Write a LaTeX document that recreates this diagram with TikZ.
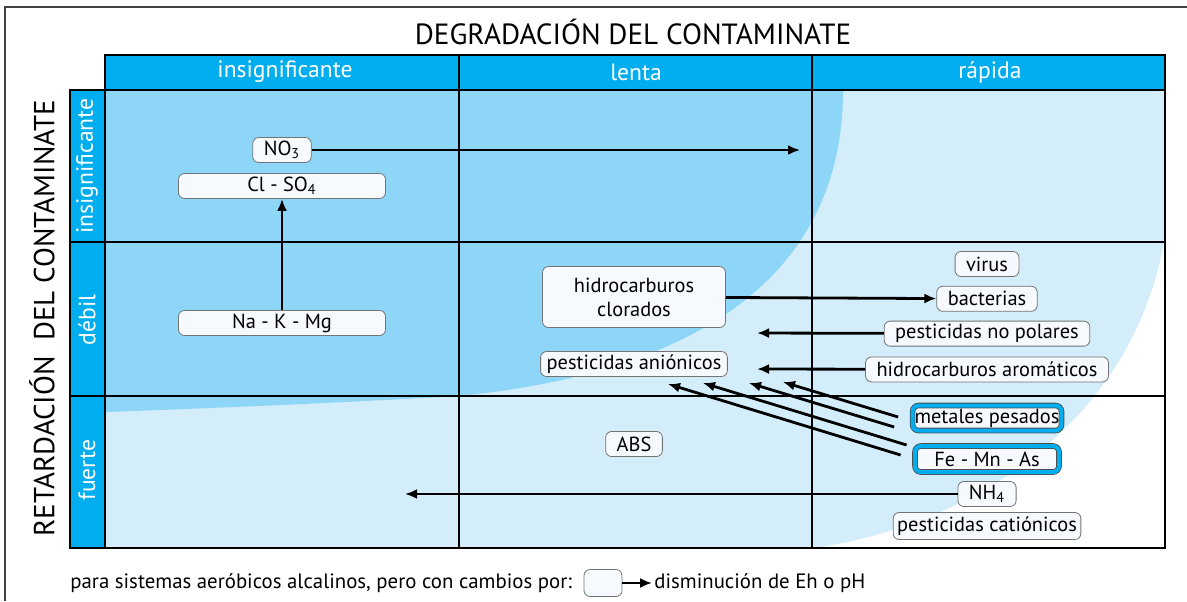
\documentclass[tikz,border=0pt]{standalone}
\usepackage{fontspec}
\setmainfont{PT Sans}
\usepackage{xcolor}
\usepackage{tikz}
\usetikzlibrary{shapes,arrows.meta,positioning}

\definecolor{hdrblue}{RGB}{0,173,238}
\definecolor{midblue}{RGB}{142,214,247}
\definecolor{lightblue}{RGB}{211,237,250}
\definecolor{boxfill}{RGB}{246,250,254}

\begin{document}
\begin{tikzpicture}[x=0.5pt, y=-0.5pt,
    box/.style={rectangle, rounded corners=3pt, draw=black!55, fill=boxfill,
                minimum height=12.5pt, inner xsep=5.5pt, inner ysep=1pt,
                font=\fontsize{10.2}{12}\selectfont, align=center},
    metalbox/.style={box, draw=black!70, double=hdrblue, double distance=2pt,
                     inner xsep=1pt, minimum width=72pt},
    hdr/.style={text=white, font=\fontsize{11.8}{14}\selectfont},
    grid/.style={draw=black, line width=0.6pt},
    arr/.style={-{Latex[length=6pt,width=5pt]}, line width=1.4pt},
    node distance=4.5pt
]
    \useasboundingbox (0,0) rectangle (1187,601);

    % zonas de fondo
    \fill[lightblue] (105,90) rectangle (1165,548);
    \fill[midblue] (105,90) -- (843,90) .. controls (843,260) and (720,370) .. (459,396)
        .. controls (300,405) and (160,410) .. (105,412) -- cycle;
    \fill[white] (1165,235) .. controls (1140,400) and (1000,520) .. (815,548) -- (1165,548) -- cycle;

    % marco y cabeceras
    \draw[black!75, line width=1pt] (5,601) -- (5,7) -- (1187,7);
    \draw[grid, fill=hdrblue] (105,55) rectangle (1165,90);
    \draw[grid, fill=hdrblue] (70,90) rectangle (105,548);
    \draw[grid] (105,90) rectangle (1165,548);
    \draw[grid] (459,55) -- (459,548);
    \draw[grid] (812,55) -- (812,548);
    \draw[grid] (70,242) -- (1165,242);
    \draw[grid] (70,396) -- (1165,396);

    \node[font=\fontsize{14.6}{17}\selectfont] (title) at (633,32) {DEGRADACIÓN DEL CONTAMINATE};
    \node[rotate=90, font=\fontsize{14.5}{17}\selectfont] (ltitle) at (42,318) {RETARDACIÓN\ \ DEL CONTAMINATE};

    \node[hdr] (cInsig) at (285,72) {insignificante};
    \node[hdr] (cLenta) at (636,72) {lenta};
    \node[hdr] (cRapida) at (990,72) {rápida};
    \node[hdr, rotate=90] (rInsig) at (87,166) {insignificante};
    \node[hdr, rotate=90] (rDebil) at (87,320) {débil};
    \node[hdr, rotate=90] (rFuerte) at (87,470) {fuerte};

    % contaminantes
    \node[box] (NO3) at (282,150) {NO\textsubscript{3}};
    \node[box, minimum width=103.5pt] (ClSO4) at (282,186) {Cl - SO\textsubscript{4}};
    \node[box, minimum width=103.5pt] (NaKMg) at (282,323) {Na - K - Mg};
    \node[box, minimum width=91.5pt, minimum height=30.5pt] (HCclor) at (634,297) {hidrocarburos\\clorados};
    \node[box, inner xsep=3pt] (PAnion) at (634,364) {pesticidas aniónicos};
    \node[box] (ABS) at (634,444) {ABS};
    \node[box] (virus) at (987,264) {virus};
    \node[box, below=of virus] (bact) {bacterias};
    \node[box, below=of bact] (PNoPol) {pesticidas no polares};
    \node[box, below=5pt of PNoPol] (HCarom) {hidrocarburos aromáticos};
    \node[metalbox] (metales) at (987,418) {metales pesados};
    \node[metalbox, minimum height=13pt] (FeMnAs) at (987,459) {Fe - Mn - As};
    \node[box] (NH4) at (987,494) {NH\textsubscript{4}};
    \node[box, inner xsep=2pt, minimum height=13.5pt] (PCation) at (987,526) {pesticidas catiónicos};

    \coordinate (tNO3) at (800,150);
    \coordinate (tPNoPol) at (757,333);
    \coordinate (tHCarom) at (757,369);
    \coordinate (tNH4) at (405,494);
    \coordinate (tM1) at (783,382);
    \coordinate (tM2) at (749,383);
    \coordinate (tF1) at (703,383);
    \coordinate (tF2) at (668,384);

    \draw[arr] (NO3) -- (tNO3);
    \draw[arr] (NaKMg) -- (ClSO4);
    \draw[arr] (HCclor) -- (bact);
    \draw[arr] (PNoPol) -- (tPNoPol);
    \draw[arr] (HCarom) -- (tHCarom);
    \draw[arr] (NH4) -- (tNH4);
    \draw[arr] ([shift={(-14,-1)}]metales.west) -- (tM1);
    \draw[arr] ([shift={(-18,9)}]metales.west) -- (tM2);
    \draw[arr] ([shift={(-8,-14)}]FeMnAs.west) -- (tF1);
    \draw[arr] ([shift={(-14,-4)}]FeMnAs.west) -- (tF2);

    % leyenda
    \node[anchor=west, font=\fontsize{10.4}{12}\selectfont, inner sep=0pt] (lgtxt) at (70,583)
        {para sistemas aeróbicos alcalinos, pero con cambios por:};
    \node[box, minimum width=19pt, minimum height=13.5pt] (lgbox) at (603,583) {};
    \node[anchor=west, font=\fontsize{10.4}{12}\selectfont, inner sep=1pt] (lgres) at (652,583)
        {disminución de Eh o pH};
    \draw[arr, line width=1.1pt] (lgbox) -- (lgres);
\end{tikzpicture}
\end{document}
